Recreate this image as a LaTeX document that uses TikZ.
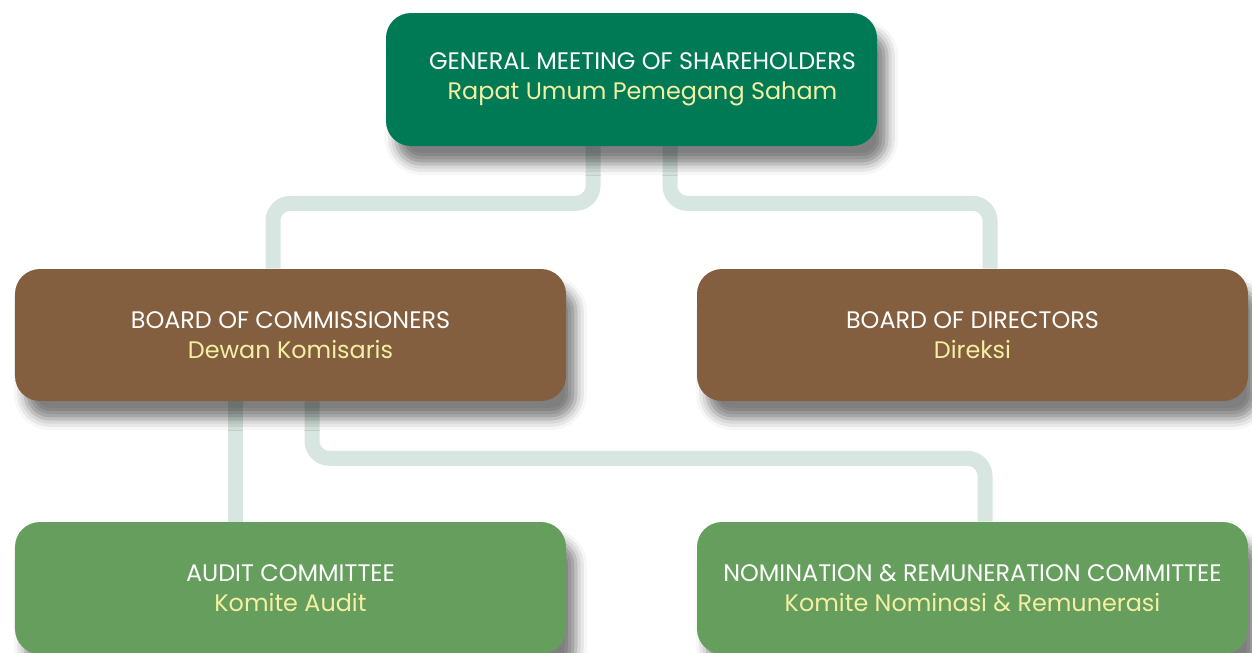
\documentclass[tikz,border=0pt]{standalone}
\usepackage{fontspec}
\setmainfont{Poppins}
\usetikzlibrary{shadows.blur,backgrounds}
\definecolor{gmsgreen}{HTML}{007A55}
\definecolor{boardbrown}{HTML}{835F40}
\definecolor{comgreen}{HTML}{669E5E}
\definecolor{linkgray}{HTML}{D7E6E0}
\definecolor{subtext}{HTML}{F4EFA2}
\newcommand{\orgtext}[2]{#1\\{\color{subtext}#2}}

\begin{document}
\begin{tikzpicture}[
    orgbox/.style={rectangle, rounded corners=0.5cm, text=white, align=center,
      font=\fontsize{13.6}{17}\selectfont,
      blur shadow={shadow xshift=0.2cm, shadow yshift=-0.36cm,
        shadow blur radius=0.22cm, shadow opacity=50}},
    link/.style={draw=linkgray, line width=0.3cm, rounded corners=0.35cm}
  ]
  \useasboundingbox (0,0) rectangle (25.04,-13.04);

  % Boxes
  \node[orgbox, fill=gmsgreen, minimum width=9.82cm, minimum height=2.66cm]
    (gms) at (12.63,-1.59) {\hspace*{0.44cm}\orgtext{GENERAL MEETING OF SHAREHOLDERS}{\hspace*{0.44cm}Rapat Umum Pemegang Saham}};
  \node[orgbox, fill=boardbrown, minimum width=11.02cm, minimum height=2.64cm]
    (boc) at (5.81,-6.70) {\orgtext{BOARD OF COMMISSIONERS}{Dewan Komisaris}};
  \node[orgbox, fill=boardbrown, minimum width=11.02cm, minimum height=2.64cm]
    (bod) at (19.45,-6.70) {\orgtext{BOARD OF DIRECTORS}{Direksi}};
  \node[orgbox, fill=comgreen, minimum width=11.02cm, minimum height=2.64cm]
    (audit) at (5.81,-11.76) {\orgtext{AUDIT COMMITTEE}{Komite Audit}};
  \node[orgbox, fill=comgreen, minimum width=11.02cm, minimum height=2.64cm]
    (nrc) at (19.45,-11.76) {\orgtext{NOMINATION \& REMUNERATION COMMITTEE}{Komite Nominasi \& Remunerasi}};

  % Connectors
  \begin{scope}[on background layer]
    \draw[link] ([xshift=-0.77cm]gms.south) -- ++(0,-1.14) -| ([xshift=-0.35cm]boc.north);
    \draw[link] ([xshift=0.77cm]gms.south) -- ++(0,-1.14) -| ([xshift=0.35cm]bod.north);
    \draw[link] ([xshift=-1.11cm]boc.south) -- ([xshift=-1.11cm]audit.north);
    \draw[link] ([xshift=0.43cm]boc.south) -- ++(0,-1.14) -| ([xshift=0.25cm]nrc.north);
  \end{scope}
\end{tikzpicture}
\end{document}
